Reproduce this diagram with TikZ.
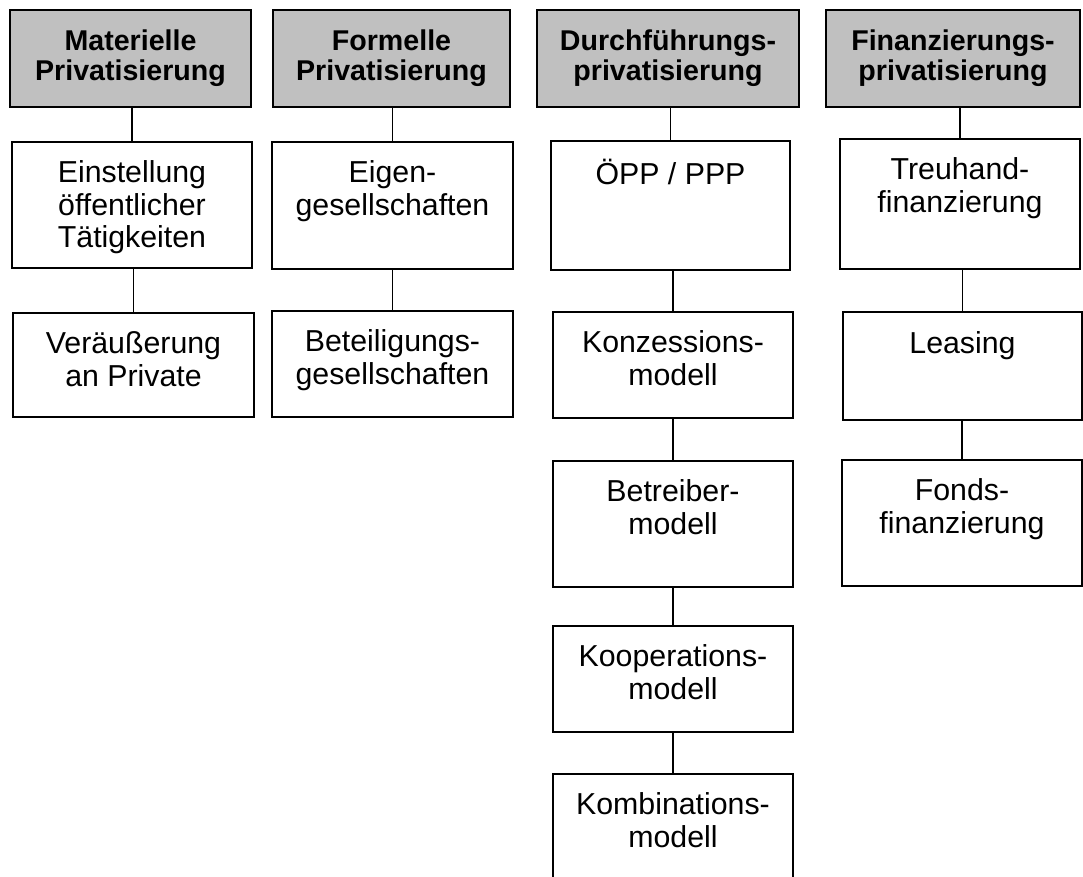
\documentclass[tikz,border=0pt]{standalone}
\usepackage{fontspec}
\setmainfont{Liberation Sans}
\usetikzlibrary{positioning}
\definecolor{kopfgrau}{HTML}{C0C0C0}
\newcommand{\kopffont}{\fontsize{28.6pt}{30pt}\selectfont\bfseries}
\newcommand{\feldfont}{\fontsize{30.3pt}{32.7pt}\selectfont}
\begin{document}
\begin{tikzpicture}[x=1pt,y=-1pt,
  kopf/.style={draw,line width=2.6pt,fill=kopfgrau,font=\kopffont,align=center,inner sep=0pt,minimum height=97pt},
  feld/.style={draw,line width=1.4pt,inner sep=0pt,minimum width=240pt},
  txt/.style={anchor=north,align=center,font=\feldfont,inner sep=0pt,yshift=-19pt,execute at begin node={\rule{0pt}{23pt}}},
  linie/.style={line width=1.4pt}]
\useasboundingbox (0,0) rectangle (1083,877);
% Kopfzeile
\node[kopf,minimum width=241pt] (mat) at (130.5,58.5) {Materielle\\Privatisierung};
\node[kopf,minimum width=237pt] (form) at (391.5,58.5) {Formelle\\Privatisierung};
\node[kopf,minimum width=262pt] (durch) at (668,58.5) {Durchführungs-\\privatisierung};
\node[kopf,minimum width=254pt] (fin) at (953,58.5) {Finanzierungs-\\privatisierung};
% Materielle Privatisierung
\node[feld,minimum height=126pt] (einst) at (132,205) {};
\node[txt] (einsttxt) at (einst.north) {Einstellung\\öffentlicher\\Tätigkeiten};
\node[feld,minimum width=241pt,minimum height=104pt] (veraeus) at (133.5,365) {};
\node[txt] (veraeustxt) at (veraeus.north) {Veräußerung\\an Private};
\draw[linie] (einst.north) -- (einst.north |- mat.south);
\draw[linie] (veraeus.north) -- (veraeus.north |- einst.south);
% Formelle Privatisierung
\node[feld,minimum width=241pt,minimum height=127pt] (eigen) at (392.5,205.5) {};
\node[txt] (eigentxt) at (eigen.north) {Eigen-\\gesellschaften};
\node[feld,minimum width=241pt,minimum height=106pt] (beteil) at (392.5,364) {};
\node[txt] (beteiltxt) at (beteil.north) {Beteiligungs-\\gesellschaften};
\draw[linie] (eigen.north) -- (eigen.north |- form.south);
\draw[linie] (beteil.north) -- (beteil.north |- eigen.south);
% Durchfuehrungsprivatisierung
\node[feld,minimum width=239pt,minimum height=129pt] (oepp) at (670.5,205.5) {};
\node[txt] (oepptxt) at (oepp.north) {ÖPP / PPP};
\node[feld,minimum height=106pt] (konz) at (673,365) {};
\node[txt] (konztxt) at (konz.north) {Konzessions-\\modell};
\node[feld,minimum height=126pt] (betr) at (673,524) {};
\node[txt] (betrtxt) at (betr.north) {Betreiber-\\modell};
\node[feld,minimum height=106pt] (koop) at (673,679) {};
\node[txt] (kooptxt) at (koop.north) {Kooperations-\\modell};
\node[feld,minimum height=116pt] (komb) at (673,832) {};
\node[txt] (kombtxt) at (komb.north) {Kombinations-\\modell};
\draw[linie] (oepp.north) -- (oepp.north |- durch.south);
\draw[linie] (konz.north) -- (konz.north |- oepp.south);
\draw[linie] (betr.north) -- (betr.north |- konz.south);
\draw[linie] (koop.north) -- (koop.north |- betr.south);
\draw[linie] (komb.north) -- (komb.north |- koop.south);
% Finanzierungsprivatisierung
\node[feld,minimum height=130pt] (treu) at (960,204) {};
\node[txt] (treutxt) at (treu.north) {Treuhand-\\finanzierung};
\node[feld,minimum width=239pt,minimum height=108pt] (leas) at (962.5,366) {};
\node[txt] (leastxt) at (leas.north) {Leasing};
\node[feld,minimum height=126pt] (fonds) at (962,523) {};
\node[txt] (fondstxt) at (fonds.north) {Fonds-\\finanzierung};
\draw[linie] (treu.north) -- (treu.north |- fin.south);
\draw[linie] (leas.north) -- (leas.north |- treu.south);
\draw[linie] (fonds.north) -- (fonds.north |- leas.south);
\end{tikzpicture}
\end{document}
